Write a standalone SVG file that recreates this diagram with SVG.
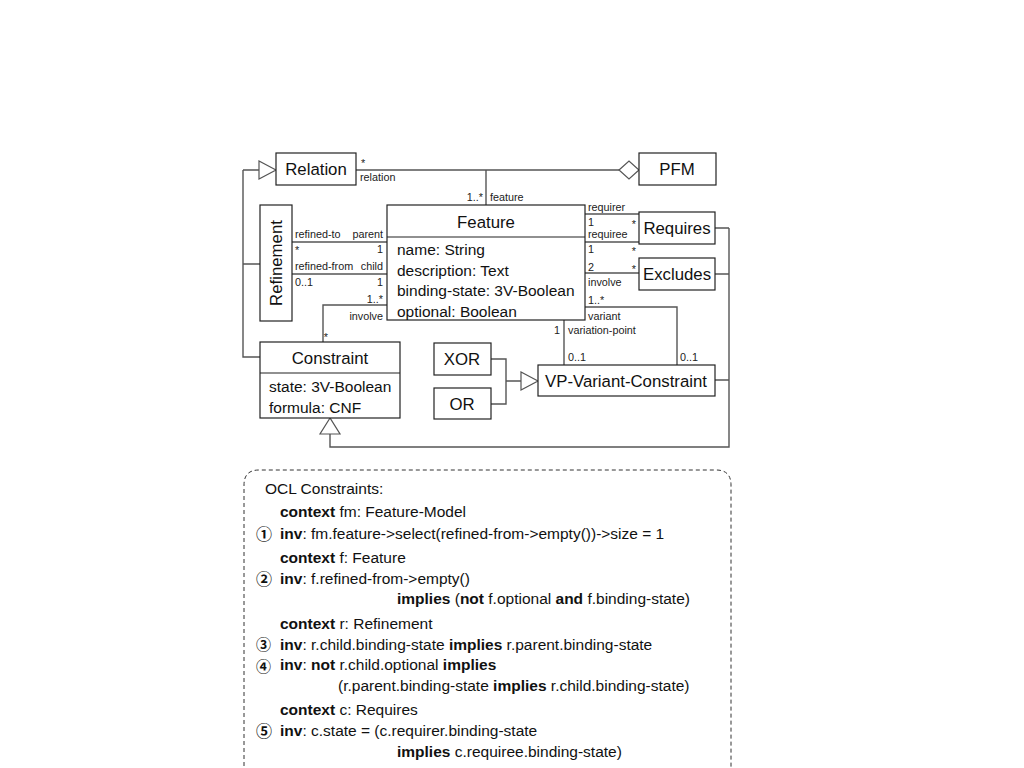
<svg xmlns="http://www.w3.org/2000/svg" width="1024" height="768" viewBox="0 0 1024 768">
<style>
.box{fill:#fff;stroke:#222;stroke-width:1.2}
.ln{fill:none;stroke:#555;stroke-width:1.4}
.tri{fill:#fff;stroke:#555;stroke-width:1.2}
.h{font-family:"Liberation Sans",Arial,sans-serif;font-size:16.8px;fill:#111}
.t{font-family:"Liberation Sans",Arial,sans-serif;font-size:15.5px;fill:#111}
.s{font-family:"Liberation Sans",Arial,sans-serif;font-size:10.8px;fill:#222}
.o{font-family:"Liberation Sans",Arial,sans-serif;font-size:15.5px;fill:#111}
.c{font-family:"Noto Sans CJK SC","DejaVu Sans",sans-serif;font-size:16px;font-weight:bold;fill:#111}
.c2{font-size:15px}
.b{font-weight:bold}
.m{text-anchor:middle}
.e{text-anchor:end}
</style>
<rect width="1024" height="768" fill="#fff"/>
<g id="connectors">
<path class="ln" d="M356 170 H619"/>
<path class="ln" d="M486 170 V205"/>
<path class="ln" d="M243 170 H259 M243 170 V357 H260 M243 264 H260"/>
<path class="ln" d="M292 242 H387 M292 274 H387"/>
<path class="ln" d="M323 342 V305 H387"/>
<path class="ln" d="M585 214 H639 M585 242 H639 M585 273 H639"/>
<path class="ln" d="M585 307 H677 V365"/>
<path class="ln" d="M564 320 V365"/>
<path class="ln" d="M491 359 H506 V404 H491 M506 381 H521"/>
<path class="ln" d="M715 228 H729 M715 274 H729 M715 380 H729 M729 228 V447 H330 V434"/>
<polygon class="tri" points="276,170 259,161 259,179"/>
<polygon class="tri" points="619,170 629,161 639,170 629,179"/>
<polygon class="tri" points="538,381 521,372 521,390"/>
<polygon class="tri" points="330,418 320,434 340,434"/>
<text class="s" x="361" y="167">*</text>
<text class="s" x="360" y="181">relation</text>
<text class="s e" x="483" y="201">1..*</text>
<text class="s" x="490" y="201">feature</text>
<text class="s" x="295" y="238">refined-to</text>
<text class="s e" x="383" y="238">parent</text>
<text class="s" x="295" y="254">*</text>
<text class="s e" x="383" y="253">1</text>
<text class="s" x="295" y="270">refined-from</text>
<text class="s e" x="383" y="270">child</text>
<text class="s" x="295" y="286">0..1</text>
<text class="s e" x="383" y="286">1</text>
<text class="s e" x="383" y="303">1..*</text>
<text class="s e" x="383" y="320">involve</text>
<text class="s e" x="328" y="341">*</text>
<text class="s" x="588" y="211">requirer</text>
<text class="s" x="588" y="226">1</text>
<text class="s e" x="636" y="228">*</text>
<text class="s" x="588" y="238">requiree</text>
<text class="s" x="588" y="253">1</text>
<text class="s e" x="636" y="255">*</text>
<text class="s" x="588" y="271">2</text>
<text class="s e" x="636" y="273">*</text>
<text class="s" x="588" y="286">involve</text>
<text class="s" x="588" y="304">1..*</text>
<text class="s" x="588" y="320">variant</text>
<text class="s e" x="560" y="334">1</text>
<text class="s" x="568" y="334">variation-point</text>
<text class="s" x="568" y="361">0..1</text>
<text class="s" x="680" y="361">0..1</text>
</g>
<g id="relation"><rect class="box" x="276" y="153" width="80" height="32"/><text class="h m" x="316" y="175">Relation</text></g>
<g id="pfm"><rect class="box" x="639" y="153" width="77" height="32"/><text class="h m" x="677" y="175">PFM</text></g>
<g id="feature"><rect class="box" x="387" y="205" width="198" height="115"/><line class="box" x1="387" y1="237" x2="585" y2="237"/>
<text class="h m" x="486" y="228">Feature</text>
<text class="t" x="397" y="255">name: String</text>
<text class="t" x="397" y="276">description: Text</text>
<text class="t" x="397" y="296">binding-state: 3V-Boolean</text>
<text class="t" x="397" y="317">optional: Boolean</text></g>
<g id="refinement"><rect class="box" x="260" y="205" width="32" height="116"/><text class="h m" transform="translate(282 263) rotate(-90)">Refinement</text></g>
<g id="requires"><rect class="box" x="639" y="212" width="76" height="32"/><text class="h m" x="677" y="234">Requires</text></g>
<g id="excludes"><rect class="box" x="639" y="258" width="76" height="32"/><text class="h m" x="677" y="280">Excludes</text></g>
<g id="constraint"><rect class="box" x="260" y="342" width="140" height="76"/><line class="box" x1="260" y1="373" x2="400" y2="373"/>
<text class="h m" x="330" y="364">Constraint</text>
<text class="t" x="269" y="392">state: 3V-Boolean</text>
<text class="t" x="269" y="413">formula: CNF</text></g>
<g id="xor"><rect class="box" x="434" y="343" width="57" height="32"/><text class="h m" x="462" y="365">XOR</text></g>
<g id="or"><rect class="box" x="434" y="388" width="57" height="31"/><text class="h m" x="462" y="410">OR</text></g>
<g id="vp"><rect class="box" x="538" y="365" width="177" height="31"/><text class="h m" x="626" y="387">VP-Variant-Constraint</text></g>
<g id="ocl">
<path d="M244 780 V485 Q244 470 259 470 H716 Q731 470 731 485 V780" fill="none" stroke="#333" stroke-width="1" stroke-dasharray="4,3"/>
<text class="o" x="265" y="494">OCL Constraints:</text>
<text class="o" x="280" y="517"><tspan class="b">context</tspan> fm: Feature-Model</text>
<text class="c" x="256" y="540">①</text>
<text class="o" x="280" y="539"><tspan class="b">inv</tspan>: fm.feature-&gt;select(refined-from-&gt;empty())-&gt;size = 1</text>
<text class="o" x="280" y="563"><tspan class="b">context</tspan> f: Feature</text>
<text class="c" x="256" y="585">②</text>
<text class="o" x="280" y="584"><tspan class="b">inv</tspan>: f.refined-from-&gt;empty()</text>
<text class="o" x="397" y="604"><tspan class="b">implies</tspan> (<tspan class="b">not</tspan> f.optional <tspan class="b">and</tspan> f.binding-state)</text>
<text class="o" x="280" y="629"><tspan class="b">context</tspan> r: Refinement</text>
<text class="c c2" x="256" y="649.5">③</text>
<text class="o" x="280" y="650"><tspan class="b">inv</tspan>: r.child.binding-state <tspan class="b">implies</tspan> r.parent.binding-state</text>
<text class="c c2" x="256" y="671.5">④</text>
<text class="o" x="280" y="670"><tspan class="b">inv</tspan>: <tspan class="b">not</tspan> r.child.optional <tspan class="b">implies</tspan></text>
<text class="o" x="338" y="691">(r.parent.binding-state <tspan class="b">implies</tspan> r.child.binding-state)</text>
<text class="o" x="280" y="715"><tspan class="b">context</tspan> c: Requires</text>
<text class="c" x="256" y="737">⑤</text>
<text class="o" x="280" y="736"><tspan class="b">inv</tspan>: c.state = (c.requirer.binding-state</text>
<text class="o" x="397" y="757"><tspan class="b">implies</tspan>  c.requiree.binding-state)</text>
</g>
</svg>
